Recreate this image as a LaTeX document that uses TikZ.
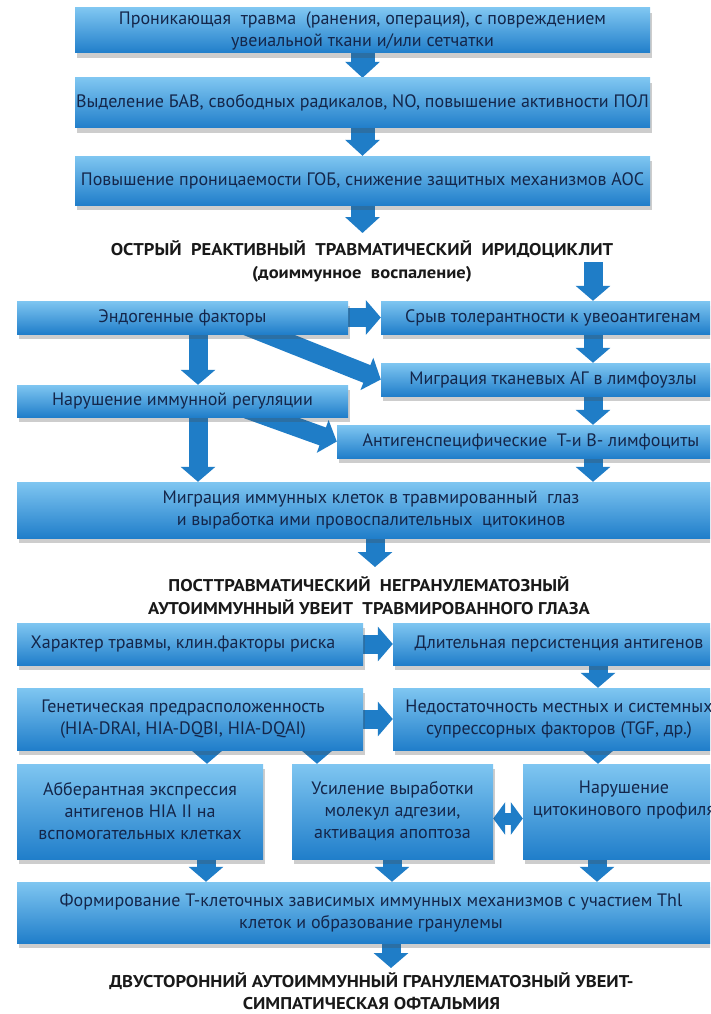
\documentclass[tikz,border=0pt]{standalone}
\usepackage{fontspec}
\setmainfont{PT Sans}
\newfontfamily\ttlfont{PT Sans}[FakeStretch=1.09]
\usetikzlibrary{arrows.meta,shadows,backgrounds,calc}
\definecolor{boxtop}{HTML}{7FC6F1}
\definecolor{boxbot}{HTML}{207ECA}
\definecolor{arr}{HTML}{1F7DC7}
\definecolor{txt}{HTML}{14264A}
\tikzset{
  box/.style={rectangle, inner sep=0pt, top color=boxtop, bottom color=boxbot,
    draw=none, text=txt, align=center, font=\fontsize{18}{22}\selectfont,
    drop shadow={shadow xshift=2pt, shadow yshift=-5pt, opacity=0.28, fill=black!70}},
  ttl/.style={font=\ttlfont\bfseries\fontsize{17}{22.5}\selectfont, text=black!90,
    align=center, inner sep=0pt},
  fat/.style={draw=arr, line width=19pt, -{Triangle[width=34pt 0 0,length=15pt 0 0]}},
  fatw/.style={draw=arr, line width=24pt, -{Triangle[width=34pt 0 0,length=16pt 0 0]}},
  twin/.style={draw=arr, line width=12pt,
    {Triangle[width=32pt 0 0,length=12pt 0 0]}-{Triangle[width=32pt 0 0,length=12pt 0 0]}},
}
\begin{document}
\begin{tikzpicture}[x=1pt,y=-1pt]
\useasboundingbox (0,0) rectangle (710,1014);
\clip (0,0) rectangle (710,1014);
% top chain
\node[box, minimum width=575pt, minimum height=45pt] (b1) at (362.5,30.5)
  {Проникающая\ \ травма\ \ (ранения, операция), с повреждением\\увеиальной ткани и/или сетчатки};
\node[box, minimum width=575pt, minimum height=50pt] (b2) at (362.5,103)
  {Выделение БАВ, свободных радикалов, NO, повышение активности ПОЛ};
\node[box, minimum width=575pt, minimum height=49pt] (b3) at (362.5,180.5)
  {Повышение проницаемости ГОБ, снижение защитных механизмов АОС};
\coordinate (c1) at (362.5,233);
\node[ttl] (t1) at (362,261.5)
  {ОСТРЫЙ\ \ РЕАКТИВНЫЙ\ \ ТРАВМАТИЧЕСКИЙ\ \ ИРИДОЦИКЛИТ\\(доиммунное\ \ воспаление)};
% second block
\coordinate (c0) at (593,262);
\node[box, minimum width=331pt, minimum height=33pt] (e) at (182.5,317.5) {Эндогенные факторы};
\node[box, minimum width=344pt, minimum height=33pt] (s) at (553,317.5) {Срыв толерантности к увеоантигенам};
\node[box, minimum width=344pt, minimum height=33pt] (m) at (553,379.5) {Миграция тканевых АГ в лимфоузлы};
\node[box, minimum width=331pt, minimum height=32pt] (n) at (182.5,401) {Нарушение иммунной регуляции};
\node[box, minimum width=388pt, minimum height=33pt] (ag) at (531,441.5) {Антигенспецифические\ \ Т-и В- лимфоциты};
\node[box, minimum width=708pt, minimum height=56pt] (mig) at (371,510)
  {Миграция иммунных клеток в травмированный\ \ глаз\\и выработка ими провоспалительных\ \ цитокинов};
\coordinate (c2) at (375,567);
\node[ttl] (t2) at (369,595.5)
  {ПОСТТРАВМАТИЧЕСКИЙ\ \ НЕГРАНУЛЕМАТОЗНЫЙ\\АУТОИММУННЫЙ УВЕИТ\ \ ТРАВМИРОВАННОГО ГЛАЗА};
% third block
\node[box, minimum width=346pt, minimum height=42pt] (h) at (190,644) {Характер травмы, клин.факторы риска\hspace*{14pt}};
\node[box, minimum width=332pt, minimum height=42pt] (d) at (559,644) {Длительная персистенция антигенов};
\node[box, minimum width=346pt, minimum height=62pt] (g) at (190,719)
  {Генетическая предрасположенность\hspace*{14pt}\\(HIA-DRAI, HIA-DQBI, HIA-DQAI)\hspace*{14pt}};
\node[box, minimum width=332pt, minimum height=62pt] (nd) at (559,719)
  {Недостаточность местных и системных\\супрессорных факторов (TGF, др.)};
\node[box, minimum width=246pt, minimum height=95pt] (ab) at (140,811.5)
  {Абберантная экспрессия\\антигенов HIA II на\\вспомогательных клетках};
\node[box, minimum width=201pt, minimum height=95pt] (us) at (392.5,811.5)
  {Усиление выработки\\молекул адгезии,\\активация апоптоза};
\node[box, minimum width=202pt, minimum height=95pt] (nc) at (624,811.5)
  {Нарушение\\цитокинового профиля\\\vphantom{Ag}};
\node[box, minimum width=708pt, minimum height=61pt] (f) at (371,912.5)
  {Формирование Т-клеточных зависимых иммунных механизмов с участием Thl\\клеток и образование гранулемы};
\coordinate (c3) at (391,968);
\node[ttl] (t3) at (371.5,991)
  {ДВУСТОРОННИЙ АУТОИММУННЫЙ ГРАНУЛЕМАТОЗНЫЙ УВЕИТ-\\СИМПАТИЧЕСКАЯ ОФТАЛЬМИЯ};
% arrows
\begin{scope}[on background layer]
  \fill[white] (0,0) rectangle (710,1014);
  \draw[fatw] ($(b1.south)+(0,-6)$) -- (b2.north);
  \draw[fatw] ($(b2.south)+(0,-6)$) -- (b3.north);
  \draw[fatw] ($(b3.south)+(0,-6)$) -- (c1);
  \draw[fat] (c0) -- (593,0 |- s.north);
  \draw[fat] ($(593,0 |- s.south)+(0,-6)$) -- (593,0 |- m.north);
  \draw[fat] ($(593,0 |- m.south)+(0,-6)$) -- (593,0 |- ag.north);
  \draw[fat] ($(593,0 |- ag.south)+(0,-6)$) -- (593,0 |- mig.north);
  \draw[fat] ($(e.east)+(-6,0)$) -- (s.west);
  \draw[fat] ($(198,0 |- e.south)+(0,-6)$) -- (198,0 |- n.north);
  \draw[fat] ($(198,0 |- n.south)+(0,-6)$) -- (198,0 |- mig.north);
  \draw[fat] ($(247,0 |- e.south)+(0,-8)$) -- (m.west);
  \draw[fat] ($(247,0 |- n.south)+(0,-8)$) -- (ag.west);
  \draw[fat] ($(375,0 |- mig.south)+(0,-6)$) -- (c2);
  \draw[fat] ($(h.east)+(-6,0)$) -- (d.west);
  \draw[fat] ($(g.east)+(-6,0)$) -- (nd.west);
  \draw[fat] ($(598,0 |- d.south)+(0,-6)$) -- (598,0 |- nd.north);
  \draw[fat] ($(207,0 |- g.south)+(0,-6)$) -- (207,0 |- ab.north);
  \draw[fat] ($(317,0 |- g.south)+(0,-6)$) -- (317,0 |- us.north);
  \draw[fat] ($(598,0 |- nd.south)+(0,-6)$) -- (598,0 |- nc.north);
  \draw[twin] ($(us.east)+(0,7)$) -- ($(nc.west)+(0,7)$);
  \draw[fat] ($(206,0 |- ab.south)+(0,-6)$) -- (206,0 |- f.north);
  \draw[fat] ($(392,0 |- us.south)+(0,-6)$) -- (392,0 |- f.north);
  \draw[fat] ($(597,0 |- nc.south)+(0,-6)$) -- (597,0 |- f.north);
  \draw[fat] ($(391,0 |- f.south)+(0,-6)$) -- (c3);
\end{scope}
\end{tikzpicture}
\end{document}
